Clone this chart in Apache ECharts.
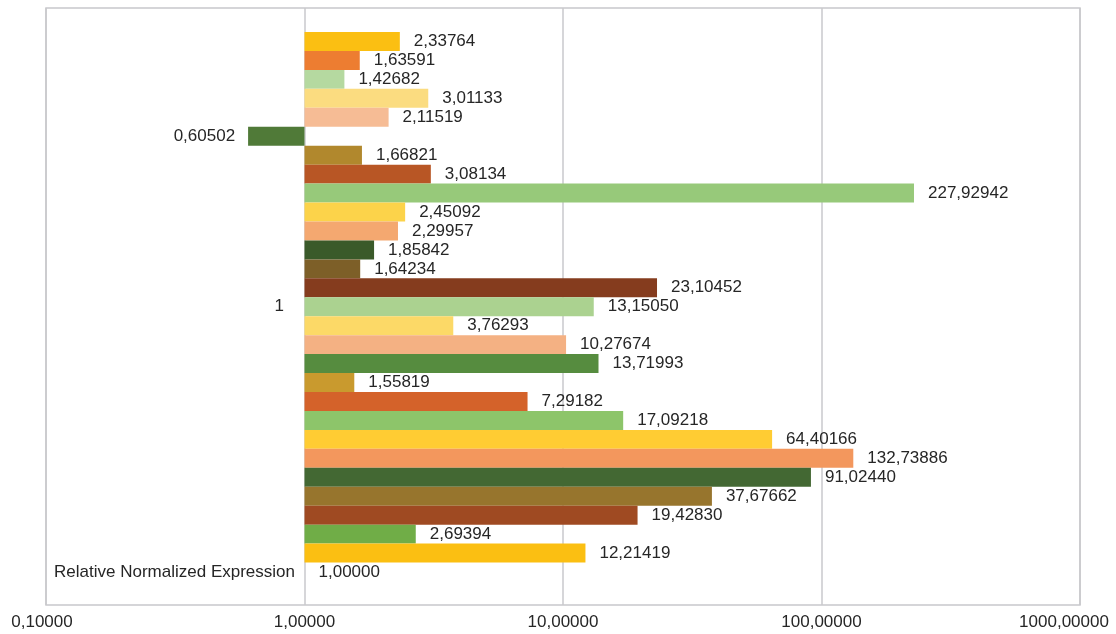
<!DOCTYPE html>
<html>
<head>
<meta charset="utf-8">
<script src="https://cdn.jsdelivr.net/npm/echarts@6/dist/echarts.min.js"></script>
<style>
html,body{margin:0;padding:0;background:#fff;}
#chart{width:1116px;height:634px;}
</style>
</head>
<body>
<div id="chart"></div>
<script>
// ---- data ----
const values = [
  2.33764, 1.63591, 1.42682, 3.01133, 2.11519, 0.60502, 1.66821, 3.08134,
  227.92942, 2.45092, 2.29957, 1.85842, 1.64234, 23.10452, 13.15050, 3.76293,
  10.27674, 13.71993, 1.55819, 7.29182, 17.09218, 64.40166, 132.73886, 91.02440,
  37.67662, 19.42830, 2.69394, 12.21419, 1.00000
];
const categoryIds = values.map((v, i) => 'c' + (i + 1));
const categoryLabels = { 14: '1', 28: 'Relative Normalized Expression' };
const xTickValues = [0.1, 1, 10, 100, 1000];

// ---- styles ----
const palette = [
  '#FBBF12', '#ED7D31', '#B5D9A0', '#FBDC80', '#F6BC95', '#507A38', '#B1882D', '#B85625',
  '#97C97A', '#FCD34A', '#F4A870', '#3A5A2A', '#7D5F28', '#853C1E', '#ABD290', '#FCD967',
  '#F4B183', '#568C3F', '#C99A2E', '#D4622A', '#8DC56A', '#FFCC33', '#F3975D', '#436833',
  '#97752D', '#9F4A22', '#70AD47', '#FBBF12', '#FBBF12'
];
const fmt = v => Number(v).toFixed(5).replace('.', ',');
const FONT = 'Liberation Sans, Arial, sans-serif';
const TXT = '#262626';
const FS = 17;
const txt = { fontFamily: FONT, fontSize: FS, color: TXT };

const xMin = xTickValues[0], xMax = xTickValues[xTickValues.length - 1];

const chart = echarts.init(document.getElementById('chart'), null, { renderer: 'canvas' });
chart.setOption({
  animation: false,
  backgroundColor: '#ffffff',
  grid: [
    { left: 46, right: 36, top: 8, bottom: 29, show: true, borderColor: '#C8C8CC', borderWidth: 1.5,
      backgroundColor: 'transparent', containLabel: false, outerBoundsMode: 'none' },
    { left: 46, right: 36, top: 32, bottom: 52.5, containLabel: false, outerBoundsMode: 'none' }
  ],
  xAxis: [
    {
      gridIndex: 0, type: 'log', logBase: 10, min: xMin, max: xMax,
      axisLine: { show: false }, axisTick: { show: false },
      splitLine: { show: true, lineStyle: { color: '#C8C8CC', width: 1.5 } },
      axisLabel: Object.assign({
        margin: 9,
        formatter: v => {
          const s = fmt(v);
          if (Math.abs(v - xMax) < 1e-6) return '{last|' + s + '}';
          if (Math.abs(v - xMin) < 1e-9) return '{first|' + s + '}';
          return s;
        },
        rich: {
          last: Object.assign({ padding: [0, 32, 0, 0] }, txt),
          first: Object.assign({ padding: [0, 8, 0, 0] }, txt)
        }
      }, txt)
    },
    {
      gridIndex: 1, type: 'log', logBase: 10, min: xMin, max: xMax,
      show: false, splitLine: { show: false }
    }
  ],
  yAxis: [
    { gridIndex: 0, type: 'value', show: false, splitLine: { show: false } },
    {
      gridIndex: 1, type: 'category', inverse: true, data: categoryIds,
      axisLine: { show: false }, axisTick: { show: false },
      axisLabel: Object.assign({
        interval: 0, margin: 9,
        formatter: (v, i) => i === 14 ? '{one|' + categoryLabels[i] + '}' : (categoryLabels[i] || ''),
        rich: { one: Object.assign({ padding: [0, 11, 0, 0] }, txt) }
      }, txt),
      offset: -258
    }
  ],
  series: [{
    type: 'bar', xAxisIndex: 1, yAxisIndex: 1,
    barWidth: '100%', barGap: '0%',
    data: values.map((v, i) => ({
      value: v,
      itemStyle: { color: palette[i] },
      label: v < 1 ? { position: 'left', distance: 13 } : undefined
    })),
    label: Object.assign({
      show: true, position: 'right', distance: 14,
      formatter: p => fmt(p.value)
    }, txt)
  }]
});
</script>
</body>
</html>
